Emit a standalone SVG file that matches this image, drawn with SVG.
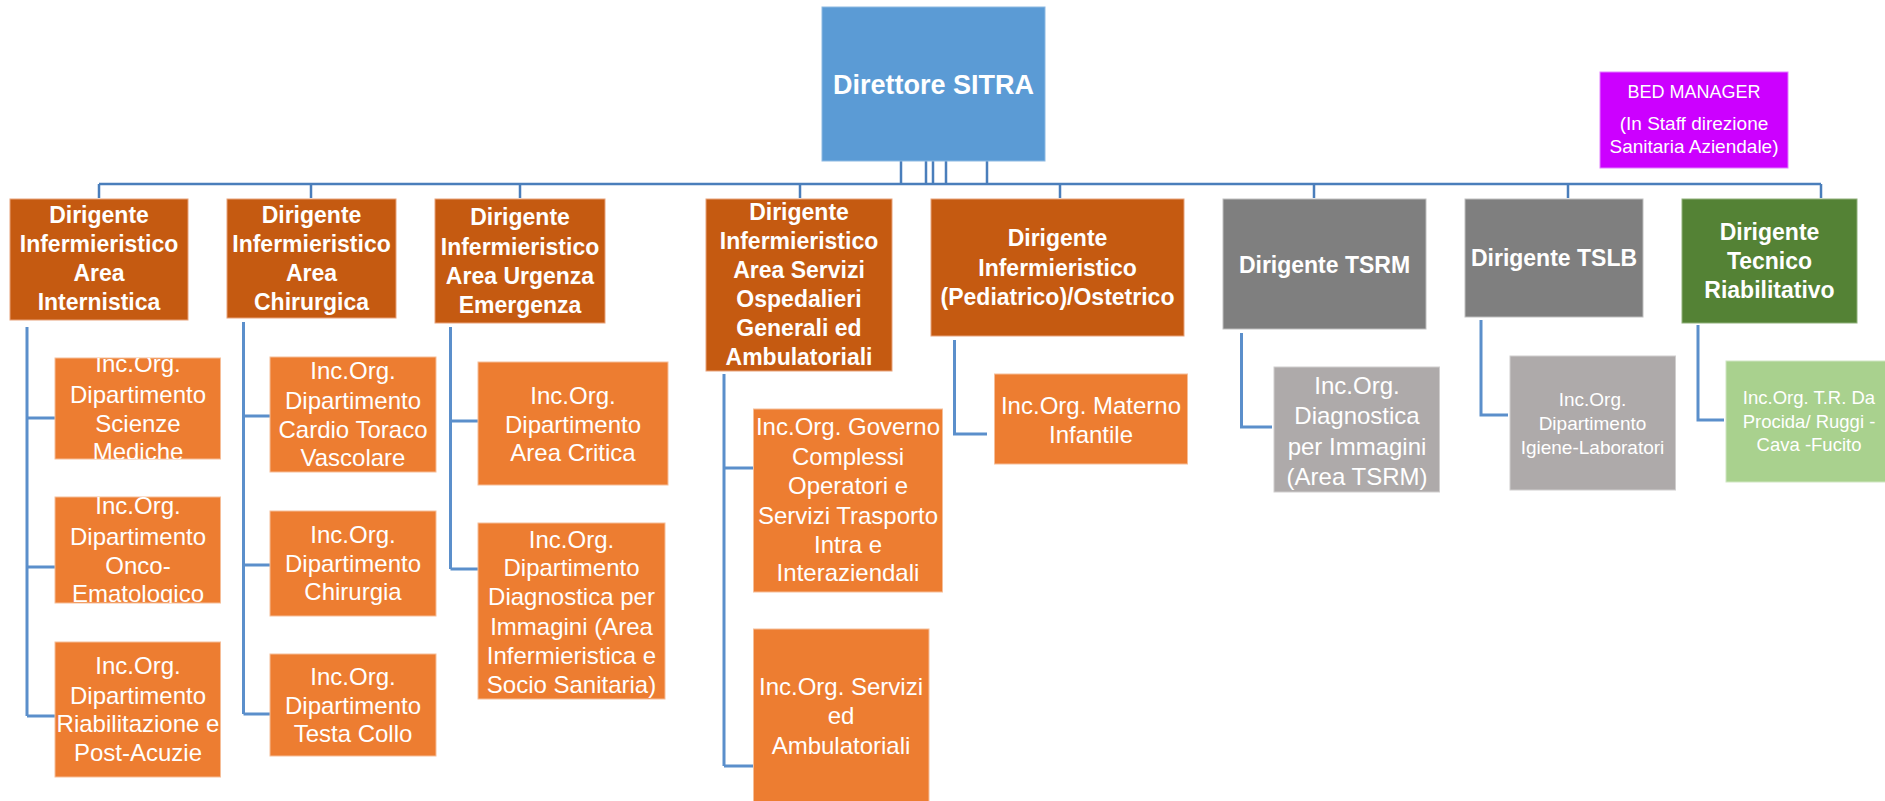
<svg xmlns="http://www.w3.org/2000/svg" width="1885" height="801" viewBox="0 0 1885 801">
<style>
.l1 text{font-family:"Liberation Sans",Arial,sans-serif;font-weight:bold;font-size:23px;fill:#fff;text-anchor:middle}
.l2 text{font-family:"Liberation Sans",Arial,sans-serif;font-size:24px;fill:#fff;text-anchor:middle}
.sm text{font-size:19px}
.xs text{font-size:18.5px}
.top text{font-family:"Liberation Sans",Arial,sans-serif;font-weight:bold;font-size:27px;fill:#fff;text-anchor:middle}
.bed text{font-family:"Liberation Sans",Arial,sans-serif;font-size:19px;fill:#fff;text-anchor:middle}
.bus{stroke:#4A7EBB;stroke-width:2.5;fill:none}
.sub{stroke:#5B8FCB;stroke-width:3;fill:none}
.dk{fill:#C55A11;stroke:#E8A27A;stroke-width:1}
.or{fill:#ED7D31;stroke:#F6BE98;stroke-width:1}
.gd{fill:#7F7F7F;stroke:#BFBFBF;stroke-width:1}
.gl{fill:#AEAAAA;stroke:#D0CECE;stroke-width:1}
.gr{fill:#548235;stroke:#8FB07A;stroke-width:1}
.lg{fill:#A9D18E;stroke:#D0E6C2;stroke-width:1}
</style>
<defs>
<clipPath id="cA1"><rect x="55" y="358" width="165.5" height="101"/></clipPath>
<clipPath id="cA2"><rect x="55" y="497" width="165.5" height="106"/></clipPath>
</defs>
<g id="connectors">
<path class="bus" d="M99 184H1821M901 161V184M926 161V184M933 161V184M946 161V184M987 161V184M99 184V198M311 184V198M520 184V198M800 184V198M1060 184V198M1314 184V198M1568 184V198M1821 184V198"/>
<path class="sub" d="M27 327V716M27 418H55M27 567H55M27 716H55"/>
<path class="sub" d="M243.5 322V714M243.5 416H270M243.5 565H270M243.5 714H270"/>
<path class="sub" d="M450.5 327V569M450.5 421H478M450.5 569H478"/>
<path class="sub" d="M724 374V766M724 468H753M724 766H753"/>
<path class="sub" d="M954.5 340V434H987"/>
<path class="sub" d="M1241.5 333V427H1272"/>
<path class="sub" d="M1481 320V415H1508"/>
<path class="sub" d="M1698 325V420H1724"/>
</g>
<g id="direttore" class="top"><rect x="822" y="7" width="223" height="154" fill="#5B9BD5" stroke="#8DB9E2"/><text x="933.5" y="94">Direttore SITRA</text></g>
<g id="bed-manager" class="bed"><rect x="1600" y="72" width="188" height="96" fill="#CC00FF" stroke="#E27FFF"/><text x="1694" y="98" style="font-size:18px">BED MANAGER</text><text x="1694" y="130">(In Staff direzione</text><text x="1694" y="153">Sanitaria Aziendale)</text></g>

<g id="d-internistica" class="l1"><rect class="dk" x="10" y="199" width="178" height="121"/><text x="99" y="223">Dirigente</text><text x="99" y="252">Infermieristico</text><text x="99" y="281">Area</text><text x="99" y="310">Internistica</text></g>
<g id="d-chirurgica" class="l1"><rect class="dk" x="227" y="199" width="169" height="119"/><text x="311.5" y="223">Dirigente</text><text x="311.5" y="252">Infermieristico</text><text x="311.5" y="281">Area</text><text x="311.5" y="310">Chirurgica</text></g>
<g id="d-urgenza" class="l1"><rect class="dk" x="435" y="199" width="170" height="124"/><text x="520" y="225">Dirigente</text><text x="520" y="255">Infermieristico</text><text x="520" y="284">Area Urgenza</text><text x="520" y="313">Emergenza</text></g>
<g id="d-servizi" class="l1"><rect class="dk" x="706" y="199" width="186" height="172"/><text x="799" y="220">Dirigente</text><text x="799" y="249">Infermieristico</text><text x="799" y="278">Area Servizi</text><text x="799" y="307">Ospedalieri</text><text x="799" y="336">Generali ed</text><text x="799" y="365">Ambulatoriali</text></g>
<g id="d-pediatrico" class="l1"><rect class="dk" x="931" y="199" width="253" height="137"/><text x="1057.5" y="246">Dirigente</text><text x="1057.5" y="276">Infermieristico</text><text x="1057.5" y="305">(Pediatrico)/Ostetrico</text></g>
<g id="d-tsrm" class="l1"><rect class="gd" x="1223" y="199" width="203" height="130"/><text x="1324.5" y="273">Dirigente TSRM</text></g>
<g id="d-tslb" class="l1"><rect class="gd" x="1465" y="199" width="178" height="118"/><text x="1554" y="266">Dirigente TSLB</text></g>
<g id="d-tecnico" class="l1"><rect class="gr" x="1682" y="199" width="175" height="124"/><text x="1769.5" y="240">Dirigente</text><text x="1769.5" y="269">Tecnico</text><text x="1769.5" y="298">Riabilitativo</text></g>

<g id="io-scienze-mediche" class="l2"><rect class="or" x="55" y="358" width="165.5" height="101"/><g clip-path="url(#cA1)"><text x="138" y="372">Inc.Org.</text><text x="138" y="402.5">Dipartimento</text><text x="138" y="431.5">Scienze</text><text x="138" y="460">Mediche</text></g></g>
<g id="io-onco" class="l2"><rect class="or" x="55" y="497" width="165.5" height="106"/><g clip-path="url(#cA2)"><text x="138" y="514">Inc.Org.</text><text x="138" y="544.5">Dipartimento</text><text x="138" y="573.5">Onco-</text><text x="138" y="601.5">Ematologico</text></g></g>
<g id="io-riabilitazione" class="l2"><rect class="or" x="55" y="642" width="165.5" height="135"/><text x="138" y="673.5">Inc.Org.</text><text x="138" y="703.5">Dipartimento</text><text x="138" y="731.5">Riabilitazione e</text><text x="138" y="761">Post-Acuzie</text></g>
<g id="io-cardio" class="l2"><rect class="or" x="270" y="357" width="166" height="115"/><text x="353" y="379">Inc.Org.</text><text x="353" y="408.5">Dipartimento</text><text x="353" y="437.5">Cardio Toraco</text><text x="353" y="466">Vascolare</text></g>
<g id="io-chirurgia" class="l2"><rect class="or" x="270" y="511" width="166" height="105"/><text x="353" y="542.5">Inc.Org.</text><text x="353" y="572">Dipartimento</text><text x="353" y="600">Chirurgia</text></g>
<g id="io-testa-collo" class="l2"><rect class="or" x="270" y="654" width="166" height="102"/><text x="353" y="685">Inc.Org.</text><text x="353" y="713.5">Dipartimento</text><text x="353" y="742">Testa Collo</text></g>
<g id="io-area-critica" class="l2"><rect class="or" x="478" y="362" width="190" height="123"/><text x="573" y="403.5">Inc.Org.</text><text x="573" y="432.5">Dipartimento</text><text x="573" y="461">Area Critica</text></g>
<g id="io-diagnostica" class="l2"><rect class="or" x="478" y="523" width="187" height="176"/><text x="571.5" y="547.5">Inc.Org.</text><text x="571.5" y="576">Dipartimento</text><text x="571.5" y="605">Diagnostica per</text><text x="571.5" y="634.5">Immagini (Area</text><text x="571.5" y="663.5">Infermieristica e</text><text x="571.5" y="692.5">Socio Sanitaria)</text></g>
<g id="io-governo" class="l2"><rect class="or" x="753.5" y="409" width="189" height="183"/><text x="848" y="435">Inc.Org. Governo</text><text x="848" y="464.5">Complessi</text><text x="848" y="493.5">Operatori e</text><text x="848" y="523.5">Servizi Trasporto</text><text x="848" y="552.5">Intra e</text><text x="848" y="581">Interaziendali</text></g>
<g id="io-servizi-amb" class="l2"><rect class="or" x="753.5" y="629" width="175.5" height="180"/><text x="841" y="695">Inc.Org. Servizi</text><text x="841" y="724">ed</text><text x="841" y="753.5">Ambulatoriali</text></g>
<g id="io-materno" class="l2"><rect class="or" x="994.5" y="374" width="193" height="90"/><text x="1091" y="413.5">Inc.Org. Materno</text><text x="1091" y="442.5">Infantile</text></g>
<g id="io-diagn-tsrm" class="l2"><rect class="gl" x="1274" y="367" width="165.5" height="125"/><text x="1357" y="393.5">Inc.Org.</text><text x="1357" y="423.5">Diagnostica</text><text x="1357" y="454.5">per Immagini</text><text x="1357" y="484.5">(Area TSRM)</text></g>
<g id="io-igiene" class="l2 sm"><rect class="gl" x="1510" y="356" width="165.5" height="134"/><text x="1592.5" y="405.5">Inc.Org.</text><text x="1592.5" y="429.5">Dipartimento</text><text x="1592.5" y="453.5">Igiene-Laboratori</text></g>
<g id="io-tr" class="l2 xs"><rect class="lg" x="1726" y="361" width="168" height="121"/><text x="1809" y="404">Inc.Org. T.R. Da</text><text x="1809" y="427.5">Procida/ Ruggi -</text><text x="1809" y="451">Cava -Fucito</text></g>
</svg>
